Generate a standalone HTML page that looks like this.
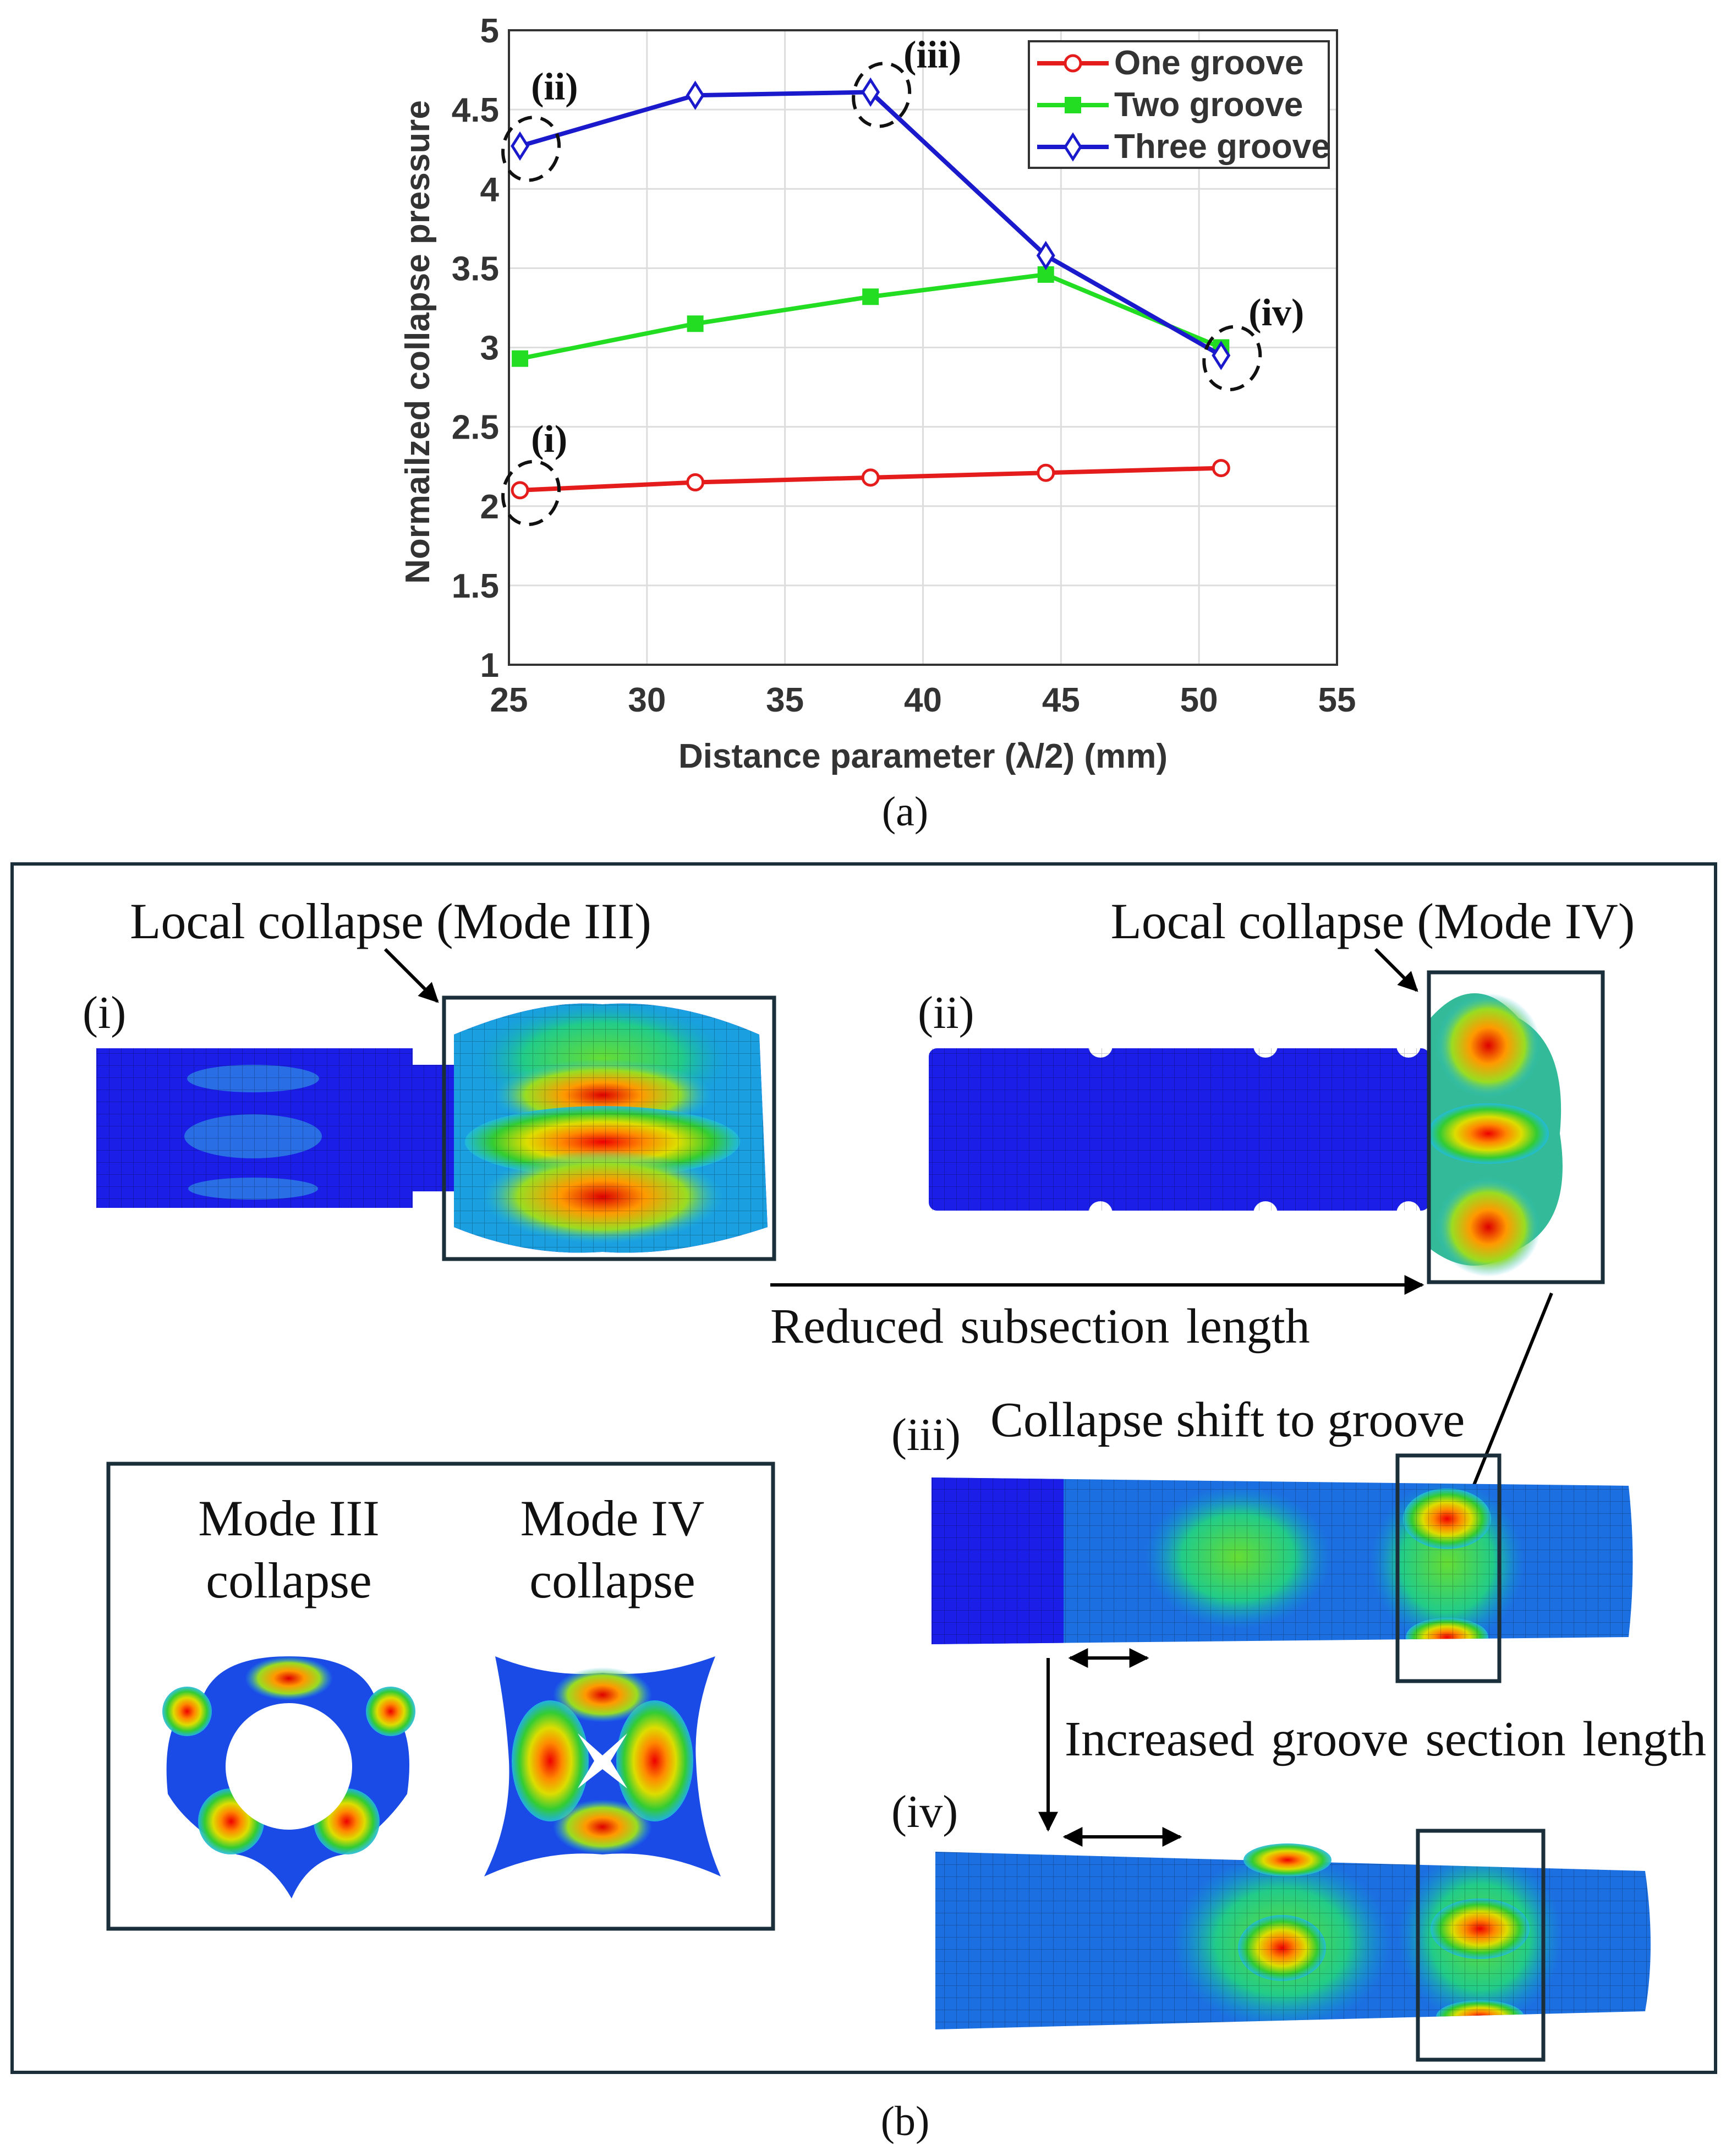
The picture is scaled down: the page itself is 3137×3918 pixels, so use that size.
<!DOCTYPE html>
<html><head><meta charset="utf-8"><style>
html,body{margin:0;padding:0;background:#fff}
svg{display:block}
.tk{font-family:"Liberation Sans",sans-serif;font-weight:bold;font-size:62px;fill:#333}
.serif{font-family:"Liberation Serif",serif;fill:#111}
</style></head><body>
<svg id="svg" width="3137" height="3918" viewBox="0 0 3137 3918" xmlns="http://www.w3.org/2000/svg">
<defs>
<radialGradient id="hot" cx="50%" cy="50%" r="50%"><stop offset="0" stop-color="#e00"/><stop offset="0.3" stop-color="#f80"/><stop offset="0.55" stop-color="#dd0"/><stop offset="0.8" stop-color="#3c3"/><stop offset="1" stop-color="#2bd" stop-opacity="0.9"/></radialGradient>
<radialGradient id="warm" cx="50%" cy="50%" r="50%"><stop offset="0" stop-color="#d00"/><stop offset="0.35" stop-color="#f90"/><stop offset="0.7" stop-color="#9d2"/><stop offset="1" stop-color="#2bd" stop-opacity="0"/></radialGradient>
<radialGradient id="grn" cx="50%" cy="50%" r="50%"><stop offset="0" stop-color="#6d3"/><stop offset="0.6" stop-color="#2c8"/><stop offset="1" stop-color="#19d" stop-opacity="0"/></radialGradient>
<pattern id="mesh" width="22" height="22" patternUnits="userSpaceOnUse"><path d="M0 0H22M0 0V22" stroke="#000" stroke-opacity="0.45" stroke-width="2" fill="none"/></pattern>
<marker id="ah" viewBox="0 0 10 10" refX="9" refY="5" markerWidth="6" markerHeight="6" orient="auto-start-reverse"><path d="M0 0L10 5L0 10z" fill="#000"/></marker>
<clipPath id="c1"><path d="M175 1905 H750 V1935 H825 L825 1880 Q980 1815 1095 1825 Q1230 1815 1380 1880 L1395 2230 Q1230 2285 1095 2275 Q960 2285 825 2230 V2165 H750 V2195 H175Z"/></clipPath>
<clipPath id="c3"><path d="M1693 2685 L2960 2700 Q2975 2840 2960 2975 L1693 2988 Z"/></clipPath>
<clipPath id="c4"><path d="M1700 3365 L2990 3400 Q3010 3540 2990 3655 L1700 3688 Z"/></clipPath>
</defs>
<g id="chart"></g>
<text class="serif" x="1645" y="1500" font-size="76" text-anchor="middle">(a)</text>

<g>
<rect x="22" y="1570" width="3096" height="2196" fill="none" stroke="#1b2f3a" stroke-width="6"/>
<text class="serif" x="710" y="1705" font-size="92" text-anchor="middle">Local collapse (Mode III)</text>
<text class="serif" x="2495" y="1705" font-size="92" text-anchor="middle">Local collapse (Mode IV)</text>
<text class="serif" x="150" y="1868" font-size="84">(i)</text>
<text class="serif" x="1668" y="1868" font-size="84">(ii)</text>
<line x1="700" y1="1725" x2="795" y2="1820" stroke="#000" stroke-width="6" marker-end="url(#ah)"/>
<line x1="2500" y1="1725" x2="2575" y2="1800" stroke="#000" stroke-width="6" marker-end="url(#ah)"/>

<g>
<g clip-path="url(#c1)">
<rect x="175" y="1800" width="1230" height="500" fill="#1a1ee6"/>
<ellipse cx="460" cy="1960" rx="120" ry="25" fill="#2a6ee6"/><ellipse cx="460" cy="2065" rx="125" ry="40" fill="#2a6ee6"/><ellipse cx="460" cy="2160" rx="118" ry="20" fill="#2a6ee6"/>
<path d="M825 1880 Q980 1815 1095 1825 Q1230 1815 1380 1880 L1395 2230 Q1230 2285 1095 2275 Q960 2285 825 2230 Z" fill="#1aa0e0"/>
<ellipse cx="1095" cy="1925" rx="240" ry="110" fill="url(#grn)"/>
<ellipse cx="1095" cy="1990" rx="200" ry="65" fill="url(#warm)"/>
<ellipse cx="1095" cy="2075" rx="250" ry="65" fill="url(#hot)"/>
<ellipse cx="1095" cy="2175" rx="220" ry="85" fill="url(#warm)"/>
<rect x="175" y="1800" width="1230" height="500" fill="url(#mesh)" opacity="0.5"/>
</g>
<rect x="807" y="1813" width="600" height="475" fill="none" stroke="#1b2f3a" stroke-width="7"/>
</g>

<g>
<rect x="1688" y="1905" width="910" height="295" rx="15" fill="#1a1ee6"/>
<circle cx="2000" cy="1900" r="22" fill="#fff"/><circle cx="2000" cy="2205" r="22" fill="#fff"/>
<circle cx="2300" cy="1900" r="22" fill="#fff"/><circle cx="2300" cy="2205" r="22" fill="#fff"/>
<circle cx="2560" cy="1900" r="22" fill="#fff"/><circle cx="2560" cy="2205" r="22" fill="#fff"/>
<rect x="1688" y="1905" width="910" height="295" fill="url(#mesh)" opacity="0.5"/>
<path d="M2600 1850 Q2680 1760 2760 1850 Q2850 1900 2835 2060 Q2860 2220 2760 2270 Q2680 2330 2600 2270 Z" fill="#3b9"/>
<ellipse cx="2705" cy="1900" rx="95" ry="95" fill="url(#warm)"/>
<ellipse cx="2705" cy="2060" rx="110" ry="55" fill="url(#hot)"/>
<ellipse cx="2705" cy="2230" rx="95" ry="90" fill="url(#warm)"/>
<rect x="2597" y="1767" width="316" height="563" fill="none" stroke="#1b2f3a" stroke-width="7"/>
</g>
<line x1="1400" y1="2335" x2="2585" y2="2335" stroke="#000" stroke-width="6" marker-end="url(#ah)"/>
<text class="serif" x="1400" y="2440" font-size="90" word-spacing="8">Reduced subsection length</text>
<line x1="2820" y1="2350" x2="2650" y2="2770" stroke="#000" stroke-width="6" marker-end="url(#ah)"/>
<text class="serif" x="1620" y="2635" font-size="84">(iii)</text>
<text class="serif" x="1800" y="2610" font-size="90">Collapse shift to groove</text>

<g>
<g clip-path="url(#c3)">
<rect x="1693" y="2680" width="1280" height="320" fill="#1c6fe0"/>
<rect x="1693" y="2680" width="240" height="320" fill="#1a1ee6"/>
<ellipse cx="2250" cy="2830" rx="170" ry="130" fill="url(#grn)"/>
<ellipse cx="2630" cy="2840" rx="140" ry="150" fill="url(#grn)"/>
<ellipse cx="2630" cy="2760" rx="80" ry="55" fill="url(#hot)"/>
<ellipse cx="2630" cy="2975" rx="75" ry="35" fill="url(#hot)"/>
<rect x="1693" y="2680" width="1280" height="320" fill="url(#mesh)" opacity="0.5"/>
</g>
<rect x="2540" y="2645" width="185" height="410" fill="none" stroke="#1b2f3a" stroke-width="7"/>
</g>
<line x1="1945" y1="3013" x2="2085" y2="3013" stroke="#000" stroke-width="6" marker-start="url(#ah)" marker-end="url(#ah)"/>
<line x1="1905" y1="3013" x2="1905" y2="3325" stroke="#000" stroke-width="6" marker-end="url(#ah)"/>
<text class="serif" x="1935" y="3190" font-size="90" word-spacing="8">Increased groove section length</text>
<text class="serif" x="1620" y="3320" font-size="84">(iv)</text>
<line x1="1935" y1="3338" x2="2145" y2="3338" stroke="#000" stroke-width="6" marker-start="url(#ah)" marker-end="url(#ah)"/>

<g>
<g clip-path="url(#c4)">
<rect x="1700" y="3360" width="1310" height="330" fill="#1c6fe0"/>
<ellipse cx="2330" cy="3530" rx="200" ry="160" fill="url(#grn)"/>
<ellipse cx="2330" cy="3540" rx="80" ry="60" fill="url(#hot)"/>
<ellipse cx="2690" cy="3520" rx="150" ry="160" fill="url(#grn)"/>
<ellipse cx="2690" cy="3505" rx="90" ry="55" fill="url(#hot)"/>
<ellipse cx="2690" cy="3665" rx="80" ry="30" fill="url(#hot)"/>
<rect x="1700" y="3360" width="1310" height="330" fill="url(#mesh)" opacity="0.5"/>
</g>
<ellipse cx="2340" cy="3380" rx="80" ry="30" fill="url(#hot)"/>
<rect x="2577" y="3327" width="228" height="416" fill="none" stroke="#1b2f3a" stroke-width="7"/>
</g>

<g>
<rect x="197" y="2660" width="1208" height="845" fill="none" stroke="#1b2f3a" stroke-width="7"/>
<text class="serif" x="525" y="2790" font-size="92" text-anchor="middle">Mode III</text>
<text class="serif" x="525" y="2903" font-size="92" text-anchor="middle">collapse</text>
<text class="serif" x="1113" y="2790" font-size="92" text-anchor="middle">Mode IV</text>
<text class="serif" x="1113" y="2903" font-size="92" text-anchor="middle">collapse</text>
<g>
<path d="M525 3010 Q650 3010 680 3080 Q760 3120 740 3260 Q700 3320 625 3370 Q560 3380 530 3450 Q490 3380 430 3370 Q340 3320 305 3260 Q290 3110 370 3080 Q400 3010 525 3010Z" fill="#1a4be6"/>
<ellipse cx="340" cy="3110" rx="45" ry="45" fill="url(#hot)"/>
<ellipse cx="710" cy="3110" rx="45" ry="45" fill="url(#hot)"/>
<ellipse cx="630" cy="3310" rx="60" ry="60" fill="url(#hot)"/>
<ellipse cx="420" cy="3310" rx="60" ry="60" fill="url(#hot)"/>
<ellipse cx="525" cy="3050" rx="80" ry="40" fill="url(#warm)"/>
<circle cx="525" cy="3210" r="115" fill="#fff"/>
</g>
<g>
<path d="M900 3010 Q1000 3050 1095 3040 Q1190 3050 1300 3010 Q1260 3110 1265 3200 Q1270 3320 1310 3410 Q1200 3360 1095 3370 Q990 3360 880 3410 Q930 3310 925 3200 Q920 3110 900 3010Z" fill="#1a4be6"/>
<ellipse cx="1000" cy="3200" rx="70" ry="110" fill="url(#hot)"/>
<ellipse cx="1190" cy="3200" rx="70" ry="110" fill="url(#hot)"/>
<ellipse cx="1095" cy="3080" rx="90" ry="50" fill="url(#warm)"/>
<ellipse cx="1095" cy="3320" rx="90" ry="50" fill="url(#warm)"/>
<path d="M1050 3150 L1095 3190 L1140 3150 L1110 3200 L1140 3250 L1095 3215 L1050 3250 L1080 3200Z" fill="#fff"/>
</g>
</g>
</g>
<text class="serif" x="1645" y="3880" font-size="76" text-anchor="middle">(b)</text>
</svg>
<script>
const xs = [25.4, 31.75, 38.1, 44.45, 50.8];
const oneGroove = [2.10, 2.15, 2.18, 2.21, 2.24];
const twoGroove = [2.93, 3.15, 3.32, 3.46, 3.00];
const threeGroove = [4.27, 4.59, 4.61, 3.58, 2.95];
const xTicks = [25, 30, 35, 40, 45, 50, 55];
const yTicks = [1, 1.5, 2, 2.5, 3, 3.5, 4, 4.5, 5];
const NS = "http://www.w3.org/2000/svg";
const L = 925, R = 2430, T = 55, B = 1208;
const sx = v => L + (v - 25) / 30 * (R - L);
const sy = v => B - (v - 1) / 4 * (B - T);
const g = document.getElementById('chart');
function mk(tag, attrs, parent) { const e = document.createElementNS(NS, tag); for (const k in attrs) e.setAttribute(k, attrs[k]); (parent || g).appendChild(e); return e; }
mk('rect', {x: L, y: T, width: R - L, height: B - T, fill: '#fff'});
xTicks.forEach(t => {
  const ln = mk('line', {x1: sx(t), x2: sx(t), y1: T, y2: B, stroke: '#ddd', 'stroke-width': 3});
  
  
  const tx = mk('text', {x: sx(t), y: B + 85, 'text-anchor': 'middle', class: 'tk'}); tx.textContent = t;
  
  
});
yTicks.forEach(t => {
  const ln = mk('line', {x1: L, x2: R, y1: sy(t), y2: sy(t), stroke: '#ddd', 'stroke-width': 3});
  
  
  const tx = mk('text', {x: L - 18, y: sy(t) + 22, 'text-anchor': 'end', class: 'tk'}); tx.textContent = t;
  
  
});
const ax = mk('rect', {x: L, y: T, width: R - L, height: B - T, fill: 'none', stroke: '#333', 'stroke-width': 4});


const xl = mk('text', {x: (L + R) / 2, y: 1395, 'text-anchor': 'middle', class: 'tk', 'font-size': 78}); xl.textContent = 'Distance parameter (\u03bb/2) (mm)';


const yl = mk('text', {x: 0, y: 0, transform: `translate(780 ${(T + B) / 2 - 10}) rotate(-90)`, 'text-anchor': 'middle', class: 'tk', 'font-size': 78}); yl.textContent = 'Normailzed collapse pressure';


function marker(kind, x, y, col, parent) {
  if (kind === 'o') return mk('circle', {cx: x, cy: y, r: 14, fill: '#fff', stroke: col, 'stroke-width': 5}, parent);
  if (kind === 's') return mk('rect', {x: x - 13, y: y - 13, width: 26, height: 26, fill: col, stroke: col, 'stroke-width': 4}, parent);
  return mk('path', {d: `M${x} ${y - 22}L${x + 14} ${y}L${x} ${y + 22}L${x - 14} ${y}Z`, fill: '#fff', stroke: col, 'stroke-width': 5}, parent);
}
const series = [[oneGroove, '#e51c1c', 'o', 'series-one-groove'], [twoGroove, '#22dd22', 's', 'series-two-groove'], [threeGroove, '#1a1acc', 'd', 'series-three-groove']];
series.forEach(([vals, col, kind, name]) => {
  const sg = mk('g', {});
  
  
  mk('polyline', {points: vals.map((v, i) => sx(xs[i]) + ',' + sy(v)).join(' '), fill: 'none', stroke: col, 'stroke-width': 8}, sg);
  vals.forEach((v, i) => { const m = marker(kind, sx(xs[i]), sy(v), col, sg);
    
     });
});
const ann = [[xs[0], oneGroove[0], '(i)', 20, -70], [xs[0], threeGroove[0], '(ii)', 20, -85], [xs[2], threeGroove[2], '(iii)', 60, -45], [xs[4], threeGroove[4], '(iv)', 50, -55]];
ann.forEach(([x, v, lab, dx, dy]) => {
  const c = mk('ellipse', {cx: sx(x) + 20, cy: sy(v) + 5, rx: 50, ry: 58, fill: 'none', stroke: '#111', 'stroke-width': 6, 'stroke-dasharray': '26 16', transform: `rotate(20 ${sx(x) + 20} ${sy(v) + 5})`});
  
  
  const t = mk('text', {x: sx(x) + dx, y: sy(v) + dy, class: 'serif', 'font-size': 70, 'font-weight': 'bold'}); t.textContent = lab;
  
  
});
const lg = mk('g', {});


mk('rect', {x: 1870, y: 75, width: 545, height: 230, fill: '#fff', stroke: '#333', 'stroke-width': 4}, lg);
const names = ['One groove', 'Two groove', 'Three groove'];
series.forEach(([vals, col, kind], i) => {
  const y = 115 + i * 76;
  const e = mk('g', {}, lg);
  
  
  mk('line', {x1: 1885, x2: 2015, y1: y, y2: y, stroke: col, 'stroke-width': 8}, e);
  marker(kind, 1950, y, col, e);
  const t = mk('text', {x: 2025, y: y + 20, class: 'tk', 'font-size': 54}, e); t.textContent = names[i];
});
</script>
</body></html>
